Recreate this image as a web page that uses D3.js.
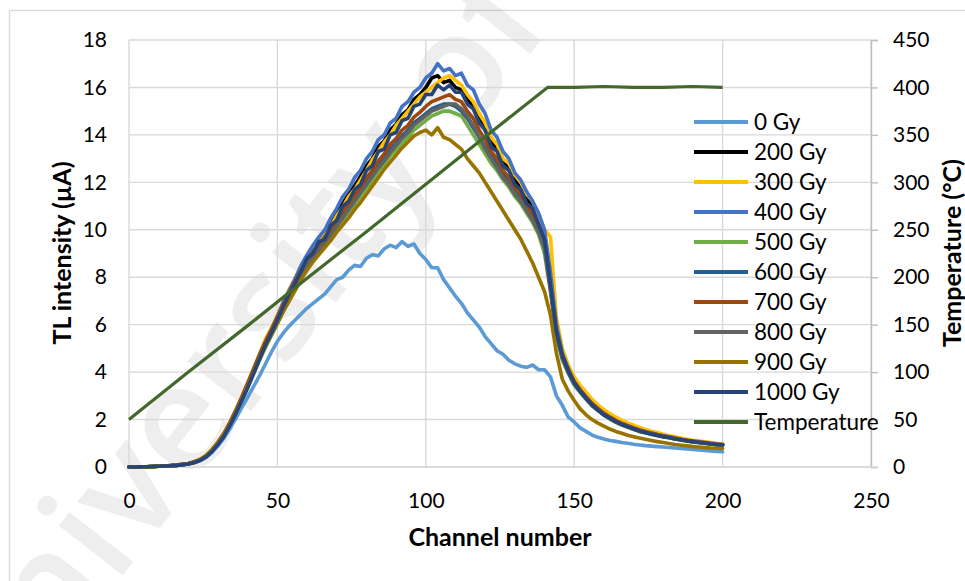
<!DOCTYPE html>
<html>
<head>
<meta charset="utf-8">
<script src="https://cdn.jsdelivr.net/npm/d3@7"></script>
<style>
  html, body { margin: 0; padding: 0; background: #fff; }
  svg { display: block; }
  text { font-family: Lato, "Open Sans", sans-serif; fill: #000; }
</style>
</head>
<body>
<svg id="chart" width="965" height="581"></svg>
<script>
// TL glow curves: intensity read every 2 channels (0..200), one array per dose
const channels = d3.range(0, 201, 2);

const gy0 = [0.00,0.00,0.01,0.01,0.02,0.03,0.04,0.05,0.07,0.09, 0.13,0.18,0.27,0.40,0.62,0.90,1.22,1.62,2.05,2.50,
  2.95,3.40,3.85,4.35,4.85,5.30,5.65,5.95,6.20,6.45, 6.70,6.90,7.10,7.30,7.60,7.90,8.00,8.30,8.50,8.45,
  8.80,8.95,8.90,9.20,9.35,9.25,9.50,9.30,9.40,9.00, 8.75,8.40,8.40,7.90,7.55,7.20,6.90,6.50,6.20,5.90,
  5.50,5.20,4.90,4.75,4.50,4.35,4.25,4.20,4.30,4.10, 4.10,3.80,3.00,2.60,2.10,1.90,1.65,1.50,1.35,1.25,
  1.18,1.12,1.08,1.03,1.00,0.96,0.93,0.90,0.88,0.86, 0.84,0.82,0.80,0.78,0.76,0.74,0.72,0.70,0.68,0.66,0.64];

const gy200 = [0.00,0.00,0.01,0.01,0.02,0.03,0.04,0.06,0.08,0.11, 0.15,0.21,0.31,0.46,0.71,1.02,1.38,1.83,2.34,2.90,
  3.45,4.05,4.70,5.25,5.80,6.30,6.90,7.40,7.90,8.40, 8.85,9.20,9.50,9.85,10.25,10.70,11.10,11.50,11.85,12.25,
  12.70,13.00,13.50,13.75,14.20,14.45,14.85,15.05,15.50,15.70, 16.00,16.40,16.50,16.20,16.30,16.00,15.90,15.50,15.20,14.70,
  14.20,13.70,13.40,12.90,12.60,12.10,11.80,11.30,11.00,10.40, 9.70,8.00,5.90,4.80,4.15,3.65,3.30,3.00,2.72,2.50,
  2.30,2.15,2.00,1.88,1.78,1.68,1.60,1.52,1.46,1.40, 1.34,1.28,1.23,1.18,1.14,1.10,1.07,1.04,1.00,0.98,0.96];

const gy300 = [0.00,0.00,0.01,0.01,0.02,0.03,0.04,0.05,0.08,0.11, 0.15,0.22,0.33,0.50,0.75,1.05,1.42,1.88,2.40,2.95,
  3.50,4.10,4.75,5.40,5.85,6.40,6.95,7.50,7.95,8.45, 8.80,9.25,9.45,9.80,10.15,10.60,10.95,11.40,11.70,12.10,
  12.50,12.95,13.30,13.70,14.00,14.40,14.70,15.00,15.30,15.60, 15.80,16.00,16.20,16.40,16.50,16.30,16.10,15.70,15.40,14.90,
  14.50,13.90,13.60,13.00,12.80,12.30,12.00,11.50,11.20,10.60, 10.00,9.70,6.30,5.00,4.30,3.80,3.45,3.15,2.85,2.62,
  2.42,2.25,2.10,1.98,1.86,1.76,1.67,1.58,1.51,1.45, 1.38,1.32,1.27,1.22,1.17,1.13,1.10,1.06,1.03,1.00,0.98];

const gy400 = [0.00,0.00,0.01,0.01,0.02,0.03,0.04,0.05,0.07,0.10, 0.14,0.19,0.28,0.42,0.65,0.95,1.30,1.75,2.25,2.80,
  3.40,4.00,4.65,5.25,5.80,6.35,6.95,7.45,7.95,8.50, 8.95,9.35,9.70,10.00,10.50,10.90,11.40,11.70,12.20,12.50,
  13.00,13.30,13.80,14.00,14.50,14.70,15.20,15.40,15.80,16.00, 16.40,16.60,17.00,16.70,16.80,16.50,16.60,16.10,15.90,15.30,
  14.90,14.20,13.90,13.30,13.00,12.40,12.10,11.60,11.20,10.70, 10.00,8.20,6.00,4.80,4.15,3.60,3.25,2.95,2.68,2.46,
  2.26,2.10,1.96,1.84,1.74,1.64,1.56,1.49,1.43,1.37, 1.31,1.26,1.21,1.16,1.12,1.08,1.05,1.02,0.99,0.96,0.94];

const gy500 = [0.00,0.00,0.01,0.01,0.02,0.03,0.04,0.05,0.07,0.10, 0.14,0.20,0.30,0.45,0.68,0.98,1.32,1.76,2.25,2.80,
  3.35,3.92,4.50,5.05,5.55,6.05,6.60,7.05,7.55,8.00, 8.40,8.75,9.05,9.35,9.70,10.05,10.40,10.75,11.05,11.40,
  11.75,12.10,12.45,12.75,13.10,13.35,13.65,13.90,14.20,14.40, 14.60,14.80,14.90,15.00,15.00,14.90,14.80,14.40,14.00,13.60,
  13.20,12.80,12.50,12.10,11.80,11.40,11.10,10.70,10.30,9.80, 9.00,7.40,5.50,4.50,3.95,3.45,3.15,2.85,2.58,2.38,
  2.18,2.03,1.88,1.77,1.67,1.58,1.49,1.43,1.37,1.32, 1.27,1.22,1.17,1.13,1.09,1.05,1.02,0.99,0.96,0.93,0.91];

const gy600 = [0.00,0.00,0.01,0.01,0.02,0.03,0.04,0.05,0.07,0.10, 0.14,0.20,0.30,0.45,0.70,1.00,1.35,1.80,2.30,2.85,
  3.40,4.00,4.60,5.15,5.65,6.15,6.70,7.20,7.70,8.15, 8.55,8.90,9.20,9.50,9.85,10.20,10.60,10.95,11.30,11.65,
  12.00,12.35,12.70,13.00,13.40,13.65,13.95,14.20,14.50,14.70, 14.90,15.10,15.20,15.30,15.30,15.20,15.00,14.70,14.30,13.90,
  13.50,13.10,12.80,12.40,12.10,11.70,11.40,11.00,10.60,10.10, 9.30,7.50,5.60,4.60,4.00,3.50,3.18,2.88,2.60,2.40,
  2.20,2.05,1.90,1.79,1.69,1.60,1.51,1.45,1.39,1.34, 1.29,1.24,1.19,1.15,1.11,1.07,1.04,1.01,0.98,0.95,0.93];

const gy700 = [0.00,0.00,0.01,0.01,0.02,0.03,0.04,0.06,0.08,0.11, 0.15,0.22,0.32,0.48,0.73,1.05,1.42,1.88,2.40,2.95,
  3.55,4.15,4.75,5.30,5.80,6.30,6.85,7.35,7.85,8.30, 8.70,9.10,9.35,9.70,10.00,10.40,10.75,11.10,11.45,11.80,
  12.20,12.50,12.90,13.20,13.60,13.85,14.20,14.40,14.75,14.95, 15.20,15.40,15.50,15.60,15.70,15.50,15.40,15.00,14.70,14.20,
  13.80,13.30,13.00,12.50,12.20,11.80,11.50,11.00,10.70,10.20, 9.40,7.60,5.70,4.70,4.10,3.60,3.25,2.95,2.68,2.46,
  2.26,2.10,1.96,1.84,1.74,1.65,1.56,1.49,1.43,1.37, 1.32,1.27,1.22,1.17,1.13,1.09,1.06,1.03,1.00,0.97,0.95];

const gy800 = [0.00,0.00,0.01,0.01,0.02,0.03,0.04,0.05,0.07,0.10, 0.14,0.20,0.30,0.45,0.69,0.99,1.34,1.78,2.28,2.82,
  3.38,3.98,4.58,5.12,5.62,6.12,6.65,7.15,7.62,8.08, 8.50,8.85,9.15,9.45,9.80,10.15,10.50,10.85,11.20,11.55,
  11.90,12.25,12.60,12.90,13.25,13.55,13.85,14.10,14.40,14.60, 14.80,15.00,15.10,15.20,15.30,15.30,15.10,14.80,14.40,13.90,
  13.40,13.00,12.60,12.20,11.90,11.50,11.20,10.80,10.40,9.90, 9.20,7.50,5.60,4.60,4.00,3.50,3.18,2.88,2.60,2.40,
  2.20,2.04,1.90,1.79,1.69,1.60,1.51,1.45,1.39,1.34, 1.29,1.24,1.19,1.15,1.11,1.07,1.04,1.01,0.98,0.95,0.93];

const gy900 = [0.00,0.00,0.01,0.01,0.02,0.03,0.04,0.05,0.07,0.10, 0.14,0.20,0.31,0.47,0.72,1.02,1.38,1.82,2.32,2.88,
  3.42,4.00,4.58,5.10,5.58,6.05,6.55,7.00,7.45,7.90, 8.30,8.65,8.95,9.25,9.55,9.90,10.20,10.50,10.85,11.15,
  11.50,11.85,12.20,12.55,12.85,13.15,13.45,13.70,13.95,14.10, 14.20,14.00,14.30,13.90,13.80,13.60,13.40,13.00,12.70,12.40,
  12.00,11.60,11.20,10.80,10.40,10.00,9.60,9.10,8.60,8.00, 7.40,6.40,4.80,3.70,3.20,2.80,2.45,2.20,2.00,1.85,
  1.72,1.60,1.50,1.42,1.34,1.28,1.22,1.17,1.12,1.07, 1.03,0.99,0.95,0.92,0.89,0.86,0.84,0.82,0.80,0.79,0.78];

const gy1000 = [0.00,0.00,0.01,0.01,0.02,0.03,0.04,0.05,0.07,0.10, 0.13,0.19,0.28,0.43,0.66,0.95,1.30,1.75,2.25,2.80,
  3.35,3.95,4.55,5.15,5.65,6.20,6.75,7.30,7.75,8.25, 8.80,9.00,9.50,9.60,10.20,10.40,11.00,11.20,11.70,11.90,
  12.50,12.70,13.30,13.40,14.00,14.10,14.60,14.70,15.20,15.30, 15.70,15.70,16.10,15.90,16.10,15.80,15.80,15.30,15.10,14.50,
  14.20,13.50,13.30,12.70,12.50,11.90,11.70,11.10,10.90,10.20, 9.60,7.70,5.70,4.70,4.05,3.55,3.20,2.90,2.62,2.40,
  2.20,2.06,1.92,1.80,1.70,1.61,1.52,1.45,1.39,1.33, 1.28,1.24,1.18,1.15,1.10,1.07,1.03,1.01,0.97,0.95,0.93];

// Heating profile (secondary axis, °C)
const tempChannels = [0, 20, 40, 60, 80, 100, 120, 141, 150, 160, 170, 180, 190, 200];
const tempValues   = [50, 100, 149, 199, 248, 298, 348, 400, 400, 401, 400, 400, 401, 400];

const seriesNames  = ["0 Gy","200 Gy","300 Gy","400 Gy","500 Gy","600 Gy","700 Gy","800 Gy","900 Gy","1000 Gy"];
const seriesColors = ["#5B9BD5","#000000","#FFC000","#4472C4","#70AD47","#255E91","#9E480E","#636363","#997300","#264478"];
const seriesData   = [gy0, gy200, gy300, gy400, gy500, gy600, gy700, gy800, gy900, gy1000];
const tempName = "Temperature";
const tempColor = "#43682B";

const xTicks = [0, 50, 100, 150, 200, 250];
const yTicks = [0, 2, 4, 6, 8, 10, 12, 14, 16, 18];
const tTicks = [0, 50, 100, 150, 200, 250, 300, 350, 400, 450];

const svg = d3.select("#chart");
const L = 129, R = 871, T = 40, B = 467;
const x  = d3.scaleLinear().domain([0, 250]).range([L, R]);
const y  = d3.scaleLinear().domain([0, 18]).range([B, T]);
const yT = d3.scaleLinear().domain([0, 450]).range([B, T]);

// chart frame
svg.append("rect").attr("x", 9.5).attr("y", 10.5).attr("width", 1000).attr("height", 700)
  .attr("fill", "#fff").attr("stroke", "#d9d9d9").attr("stroke-width", 1.3);

// watermark
svg.append("text").attr("class", "watermark")
  .attr("transform", "translate(-12,748) rotate(-52)")
  .style("font-family", "'Open Sans', sans-serif").style("font-size", "150px").style("font-weight", "600")
  .attr("fill", "#000").attr("fill-opacity", 0.065)
  .text("University of Malaya");

// grid
const grid = svg.append("g").attr("stroke", "#d9d9d9").attr("stroke-width", 1.4);
grid.selectAll(".h").data(yTicks).join("line")
  .attr("x1", L).attr("x2", R).attr("y1", d => y(d)).attr("y2", d => y(d));
grid.selectAll(".v").data(xTicks).join("line")
  .attr("x1", d => x(d)).attr("x2", d => x(d)).attr("y1", T).attr("y2", B);

// axes
const fs = 21;
const gx = svg.append("g").attr("transform", `translate(0,${B})`)
  .call(d3.axisBottom(x).tickValues(xTicks).tickSize(0).tickPadding(26).tickFormat(d3.format("d")));
gx.select(".domain").remove();
const gy = svg.append("g").attr("transform", `translate(${L},0)`)
  .call(d3.axisLeft(y).tickValues(yTicks).tickSize(0).tickPadding(22).tickFormat(d3.format("d")));
gy.select(".domain").remove();
const gt = svg.append("g").attr("transform", `translate(${R},0)`)
  .call(d3.axisRight(yT).tickValues(tTicks).tickSize(7).tickPadding(15).tickFormat(d3.format("d")));
gt.select(".domain").attr("stroke", "#bfbfbf").attr("stroke-width", 1.4);
gt.selectAll(".tick line").attr("stroke", "#bfbfbf").attr("stroke-width", 1.4);
[gx, gy, gt].forEach(g => g.selectAll("text")
  .style("font-family", "Lato, 'Open Sans', sans-serif").style("font-size", fs + "px").attr("fill", "#000"));
svg.append("line").attr("x1", L).attr("x2", R + 7).attr("y1", B).attr("y2", B)
  .attr("stroke", "#d9d9d9").attr("stroke-width", 1.4);

// series
const line = d3.line().x((d, i) => x(channels[i])).y(d => y(d));
const plot = svg.append("g");
seriesData.forEach((arr, k) => {
  plot.append("path").datum(arr).attr("d", line)
    .attr("fill", "none").attr("stroke", seriesColors[k]).attr("stroke-width", 3.6)
    .attr("stroke-linejoin", "round").attr("stroke-linecap", "round");
});
const tLine = d3.line().x((d, i) => x(tempChannels[i])).y(d => yT(d));
plot.append("path").datum(tempValues).attr("d", tLine)
  .attr("fill", "none").attr("stroke", tempColor).attr("stroke-width", 3.2)
  .attr("stroke-linejoin", "round");

// legend
const legendNames = seriesNames.concat([tempName]);
const legendColors = seriesColors.concat([tempColor]);
const lg = svg.append("g");
legendNames.forEach((n, i) => {
  const yy = 122 + i * 30;
  lg.append("line").attr("x1", 694).attr("x2", 748).attr("y1", yy).attr("y2", yy)
    .attr("stroke", legendColors[i]).attr("stroke-width", 4.2);
  lg.append("text").attr("x", 754).attr("y", yy).attr("dy", "0.35em")
    .style("font-size", "22.5px").text(n);
});

// axis titles
svg.append("text").attr("x", 500).attr("y", 546).attr("text-anchor", "middle")
  .style("font-size", "25px").style("font-weight", "bold").text("Channel number");
svg.append("text").attr("transform", "translate(71,253) rotate(-90)").attr("text-anchor", "middle")
  .style("font-size", "25px").style("font-weight", "bold").text("TL intensity (µA)");
svg.append("text").attr("transform", "translate(961,253) rotate(-90)").attr("text-anchor", "middle")
  .style("font-size", "25px").style("font-weight", "bold").text("Temperature (°C)");
</script>
</body>
</html>
